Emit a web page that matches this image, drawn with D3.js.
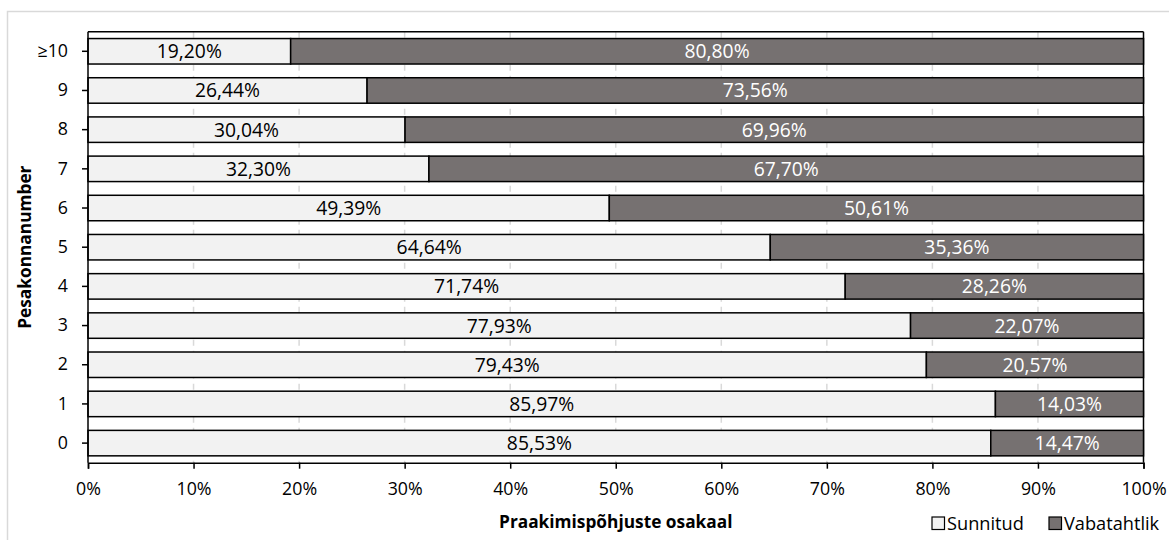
<!DOCTYPE html>
<html>
<head>
<meta charset="utf-8">
<script src="https://cdn.jsdelivr.net/npm/d3@7"></script>
<style>
  html, body { margin: 0; padding: 0; background: #fff; }
  svg { display: block; font-family: "Open Sans", "Noto Sans", sans-serif; }
</style>
</head>
<body>
<svg id="chart" width="1169" height="540"></svg>
<script>
const categories = ["≥10", "9", "8", "7", "6", "5", "4", "3", "2", "1", "0"];
const sunnitud = [19.20, 26.44, 30.04, 32.30, 49.39, 64.64, 71.74, 77.93, 79.43, 85.97, 85.53];
const vabatahtlik = [80.80, 73.56, 69.96, 67.70, 50.61, 35.36, 28.26, 22.07, 20.57, 14.03, 14.47];
const seriesNames = ["Sunnitud", "Vabatahtlik"];
const xTicks = [0, 10, 20, 30, 40, 50, 60, 70, 80, 90, 100];
const xTitle = "Praakimispõhjuste osakaal";
const yTitle = "Pesakonnanumber";

(function () {
const colors = { light: "#f2f2f2", dark: "#767171" };
const svg = d3.select("#chart");

// chart frame
svg.append("rect").attr("x", 7.5).attr("y", 11.5).attr("width", 1250).attr("height", 600)
  .attr("fill", "none").attr("stroke", "#d9d9d9").attr("stroke-width", 1.5);

const pL = 88, pR = 1143.5, pT = 31.7, pB = 462.7;
const x = d3.scaleLinear().domain([0, 100]).range([pL, pR]);
const y = d3.scaleBand().domain(categories).range([pT, pB])
  .paddingInner(0.35).paddingOuter(0.175);

// gridlines
svg.append("g").selectAll("line").data(xTicks.filter(t => t > 0 && t < 100)).join("line")
  .attr("x1", d => x(d)).attr("x2", d => x(d))
  .attr("y1", pT).attr("y2", pB)
  .attr("stroke", "#d9d9d9").attr("stroke-width", 1.5).attr("stroke-dasharray", "6,5");

// plot border top/right
svg.append("line").attr("x1", pL).attr("x2", pR).attr("y1", pT).attr("y2", pT)
  .attr("stroke", "#000").attr("stroke-width", 1.5);
svg.append("line").attr("x1", pR).attr("x2", pR).attr("y1", pT).attr("y2", pB)
  .attr("stroke", "#000").attr("stroke-width", 1.5);

const fmt = v => v.toFixed(2).replace(".", ",") + "%";

const rows = categories.map((c, i) => ({ c, s: sunnitud[i], v: vabatahtlik[i] }));

const g = svg.append("g");
g.selectAll("rect.s").data(rows).join("rect").attr("class", "s")
  .attr("x", x(0)).attr("y", d => y(d.c))
  .attr("width", d => x(d.s) - x(0)).attr("height", y.bandwidth())
  .attr("fill", colors.light).attr("stroke", "#000").attr("stroke-width", 1.5);
g.selectAll("rect.v").data(rows).join("rect").attr("class", "v")
  .attr("x", d => x(d.s)).attr("y", d => y(d.c))
  .attr("width", d => x(d.s + d.v) - x(d.s)).attr("height", y.bandwidth())
  .attr("fill", colors.dark).attr("stroke", "#000").attr("stroke-width", 1.5);

const fs = 19.3;
g.selectAll("text.s").data(rows).join("text").attr("class", "s")
  .attr("x", d => (x(0) + x(d.s)) / 2).attr("y", d => y(d.c) + y.bandwidth() / 2)
  .attr("dy", "0.36em").attr("text-anchor", "middle")
  .attr("font-size", fs).attr("fill", "#000").text(d => fmt(d.s));
g.selectAll("text.v").data(rows).join("text").attr("class", "v")
  .attr("x", d => (x(d.s) + x(d.s + d.v)) / 2).attr("y", d => y(d.c) + y.bandwidth() / 2)
  .attr("dy", "0.36em").attr("text-anchor", "middle")
  .attr("font-size", fs).attr("fill", "#fff").text(d => fmt(d.v));

const tfs = 17.8;
const xAxis = d3.axisBottom(x).tickValues(xTicks).tickFormat(d => d + "%").tickSize(6).tickPadding(14);
const gx = svg.append("g").attr("transform", `translate(0,${pB})`).call(xAxis);
gx.select(".domain").attr("stroke", "#000").attr("stroke-width", 1.5);
gx.selectAll(".tick line").attr("stroke", "#000").attr("stroke-width", 1.5);
gx.selectAll(".tick text").attr("font-size", tfs).attr("fill", "#000")
  .attr("font-family", "'Open Sans', sans-serif");

const yAxis = d3.axisLeft(y).tickSize(6).tickPadding(14);
const gy = svg.append("g").attr("transform", `translate(${pL},0)`).call(yAxis);
gy.select(".domain").attr("d", `M0,${pT}V${pB}`).attr("stroke", "#000").attr("stroke-width", 1.5);
gy.selectAll(".tick line").attr("stroke", "#000").attr("stroke-width", 1.5);
gy.selectAll(".tick text").attr("font-size", tfs).attr("fill", "#000")
  .attr("font-family", "'Open Sans', sans-serif");

svg.append("text").attr("x", (pL + pR) / 2).attr("y", 528)
  .attr("text-anchor", "middle").attr("font-size", 17.3).attr("font-weight", "bold")
  .text(xTitle);
svg.append("text").attr("transform", `translate(31,${(pT + pB) / 2}) rotate(-90)`)
  .attr("text-anchor", "middle").attr("font-size", 17.3).attr("font-weight", "bold")
  .text(yTitle);

const legend = svg.append("g");
const legItems = [
  { name: seriesNames[0], fill: colors.light, x: 932 },
  { name: seriesNames[1], fill: colors.dark, x: 1049 }
];
legItems.forEach(it => {
  legend.append("rect").attr("x", it.x).attr("y", 517).attr("width", 12.5).attr("height", 12.5)
    .attr("fill", it.fill).attr("stroke", "#000").attr("stroke-width", 1.2);
  legend.append("text").attr("x", it.x + 15).attr("y", 530)
    .attr("font-size", 18.2).attr("fill", "#000").text(it.name);
});
})();
</script>
</body>
</html>
